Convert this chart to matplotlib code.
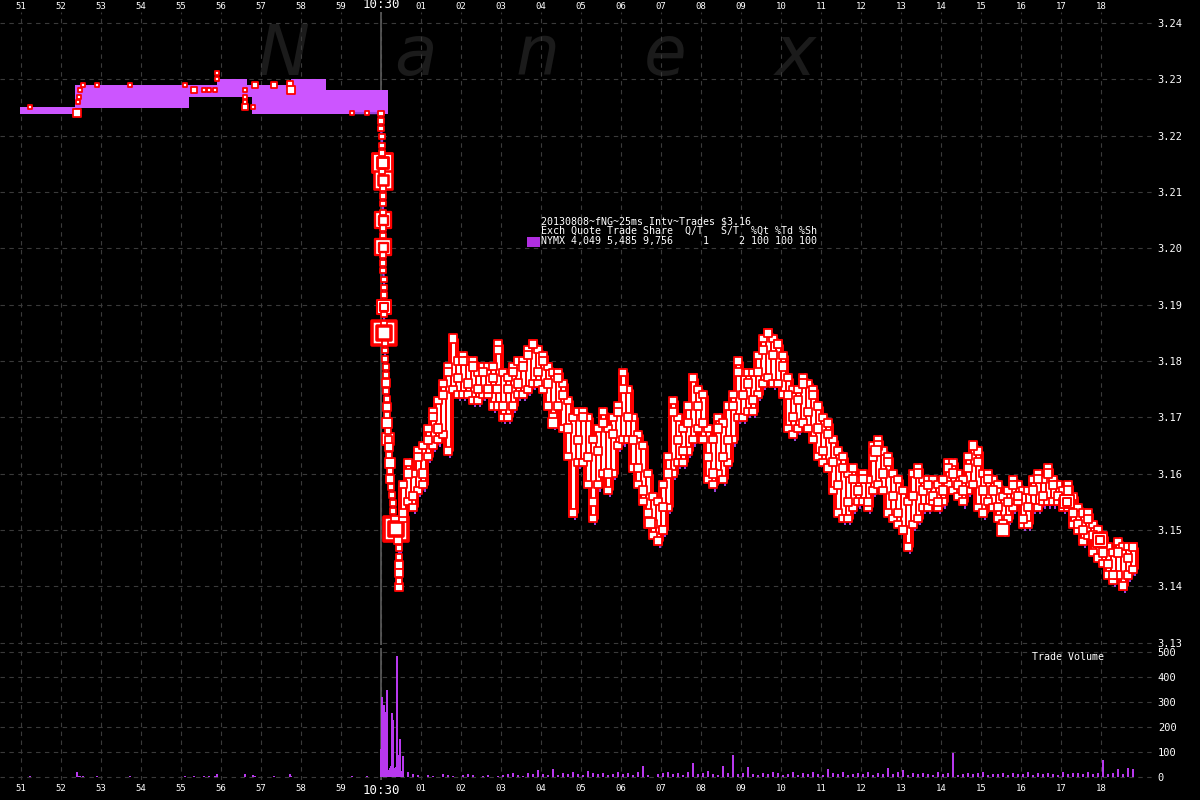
import matplotlib
matplotlib.use("Agg")
import matplotlib.pyplot as plt
from matplotlib.patches import Rectangle
import numpy as np

# ---------------- data ----------------
sec_ticks = list(range(-9, 19))
sec_labels = ["51", "52", "53", "54", "55", "56", "57", "58", "59", "10:30",
              "01", "02", "03", "04", "05", "06", "07", "08", "09", "10",
              "11", "12", "13", "14", "15", "16", "17", "18"]
price_ticks = [3.13, 3.14, 3.15, 3.16, 3.17, 3.18, 3.19, 3.20, 3.21, 3.22, 3.23, 3.24]
vol_ticks = [0, 100, 200, 300, 400, 500]

# NYMX quote band before 10:30 (step edges, seconds from 10:30:00)
band_t = [-9.025, -7.65, -4.8, -4.1, -3.35, -3.225, -2.25, -1.375, 0.175]
band_lo = [3.2238, 3.2249, 3.2269, 3.2269, 3.2269, 3.2238, 3.2238, 3.2238]
band_hi = [3.2251, 3.2290, 3.2290, 3.2301, 3.2290, 3.2290, 3.2301, 3.2281]
patch_t = [1.1, 1.4]
patch_lo = 3.1652
patch_hi = 3.1680

# trades before 10:30
pre_t = [-8.775, -7.6, -7.575, -7.55, -7.525, -7.45, -7.1, -6.275, -4.9, -4.675,
         -4.425, -4.3, -4.15, -4.1, -4.1, -3.4, -3.4, -3.4, -3.4, -3.2,
         -3.15, -2.675, -2.275, -2.25, -0.725, -0.35]
pre_px = [3.2251, 3.2240, 3.2260, 3.2269, 3.2281, 3.2290, 3.2290, 3.2290, 3.2290, 3.2281,
          3.2281, 3.2281, 3.2281, 3.2301, 3.2311, 3.2281, 3.2269, 3.2260, 3.2251, 3.2251,
          3.2290, 3.2290, 3.2291, 3.2281, 3.2240, 3.2240]
pre_sz = [6, 10, 6, 6, 6, 6, 6, 6, 6, 8,
          6, 6, 6, 6, 6, 6, 6, 6, 8, 6,
          8, 8, 8, 10, 6, 6]
pre_vol = [4, 19, 6, 4, 4, 4, 4, 4, 4, 6,
           4, 4, 6, 12, 8, 12, 4, 4, 6, 8,
           6, 4, 12, 6, 4, 4]

# the drop right after 10:30
drop_t = [0.000, 0.000, 0.000, 0.025, 0.025, 0.025, 0.025, 0.025, 0.050, 0.050,
          0.050, 0.050, 0.050, 0.050, 0.050, 0.050, 0.050, 0.050, 0.050, 0.050,
          0.075, 0.075, 0.075, 0.075, 0.075, 0.075, 0.075, 0.100, 0.100, 0.100,
          0.125, 0.125, 0.125, 0.125, 0.150, 0.150, 0.150, 0.150, 0.175, 0.175,
          0.200, 0.200, 0.225, 0.225, 0.225, 0.250, 0.275, 0.300, 0.300, 0.350,
          0.375, 0.425, 0.450, 0.450, 0.450, 0.450, 0.450, 0.450]
drop_px = [3.2240, 3.2226, 3.2212, 3.2198, 3.2183, 3.2169, 3.2153, 3.2137, 3.2121, 3.2107,
           3.2093, 3.2079, 3.2064, 3.2050, 3.2036, 3.2022, 3.2002, 3.1988, 3.1974, 3.1960,
           3.1945, 3.1931, 3.1917, 3.1896, 3.1882, 3.1867, 3.1850, 3.1832, 3.1818, 3.1803,
           3.1789, 3.1775, 3.1761, 3.1747, 3.1733, 3.1718, 3.1704, 3.1690, 3.1676, 3.1661,
           3.1647, 3.1633, 3.1619, 3.1605, 3.1590, 3.1576, 3.1562, 3.1548, 3.1534, 3.1518,
           3.1502, 3.1482, 3.1468, 3.1452, 3.1438, 3.1424, 3.1409, 3.1399]
drop_sz = [7, 7, 7, 7, 7, 7, 22, 7, 20, 7,
           7, 7, 7, 18, 7, 7, 18, 7, 7, 7,
           7, 7, 7, 16, 7, 7, 27, 7, 7, 8,
           8, 8, 10, 8, 8, 10, 8, 12, 8, 14,
           10, 8, 12, 8, 10, 8, 8, 8, 8, 10,
           28, 10, 8, 8, 10, 10, 8, 10]

# 25ms interval volume during the drop
spike_t = [0.000, 0.025, 0.050, 0.075, 0.100, 0.125, 0.150, 0.175, 0.200, 0.225, 0.250,
           0.275, 0.300, 0.325, 0.350, 0.375, 0.400, 0.425, 0.450, 0.475, 0.500, 0.525]
spike_vol = [111, 321, 60, 288, 261, 35, 348, 30, 20, 35, 45,
             257, 228, 35, 35, 40, 484, 88, 30, 151, 25, 12]

# trades after the drop, one column every 0.125 s starting at 10:30:00.55
post_start = 0.55
post_step = 0.125
post_px = [3.153, 3.160, 3.156, 3.163, 3.160, 3.166, 3.170, 3.168, 3.174, 3.178,
           3.184, 3.177, 3.180, 3.176, 3.179, 3.175, 3.178, 3.175, 3.177, 3.182,
           3.172, 3.175, 3.178, 3.176, 3.179, 3.181, 3.183, 3.178, 3.180, 3.176,
           3.170, 3.177, 3.174, 3.168, 3.153, 3.166, 3.170, 3.163, 3.155, 3.164,
           3.169, 3.160, 3.167, 3.171, 3.175, 3.170, 3.166, 3.161, 3.157, 3.153,
           3.151, 3.148, 3.154, 3.160, 3.171, 3.166, 3.164, 3.169, 3.177, 3.172,
           3.169, 3.163, 3.160, 3.168, 3.163, 3.166, 3.172, 3.178, 3.174, 3.176,
           3.173, 3.178, 3.182, 3.185, 3.181, 3.183, 3.179, 3.174, 3.170, 3.173,
           3.176, 3.171, 3.174, 3.168, 3.164, 3.167, 3.162, 3.158, 3.161, 3.155,
           3.159, 3.157, 3.159, 3.155, 3.163, 3.165, 3.160, 3.162, 3.156, 3.153,
           3.150, 3.147, 3.156, 3.160, 3.157, 3.158, 3.156, 3.155, 3.157, 3.161,
           3.160, 3.158, 3.157, 3.161, 3.165, 3.162, 3.157, 3.159, 3.157, 3.154,
           3.151, 3.155, 3.158, 3.156, 3.152, 3.154, 3.157, 3.159, 3.156, 3.160,
           3.158, 3.156, 3.155, 3.157, 3.153, 3.151, 3.150, 3.152, 3.149, 3.148,
           3.146, 3.144, 3.142, 3.146, 3.140, 3.145, 3.147]
post_lo = [3.152, 3.155, 3.154, 3.157, 3.158, 3.163, 3.165, 3.166, 3.167, 3.164,
           3.175, 3.174, 3.174, 3.174, 3.173, 3.173, 3.174, 3.174, 3.172, 3.172,
           3.170, 3.170, 3.172, 3.174, 3.174, 3.175, 3.176, 3.176, 3.175, 3.172,
           3.169, 3.172, 3.168, 3.163, 3.153, 3.162, 3.162, 3.158, 3.152, 3.158,
           3.160, 3.157, 3.160, 3.165, 3.166, 3.166, 3.161, 3.158, 3.155, 3.151,
           3.149, 3.148, 3.150, 3.154, 3.160, 3.162, 3.162, 3.164, 3.166, 3.168,
           3.166, 3.159, 3.158, 3.160, 3.159, 3.162, 3.166, 3.170, 3.170, 3.171,
           3.171, 3.174, 3.176, 3.177, 3.176, 3.176, 3.174, 3.168, 3.167, 3.168,
           3.169, 3.168, 3.166, 3.163, 3.162, 3.161, 3.157, 3.153, 3.152, 3.152,
           3.154, 3.155, 3.155, 3.154, 3.157, 3.158, 3.157, 3.153, 3.152, 3.151,
           3.150, 3.147, 3.151, 3.152, 3.154, 3.154, 3.155, 3.154, 3.155, 3.158,
           3.157, 3.156, 3.155, 3.157, 3.158, 3.154, 3.153, 3.155, 3.154, 3.152,
           3.150, 3.152, 3.154, 3.155, 3.151, 3.151, 3.154, 3.154, 3.155, 3.155,
           3.155, 3.155, 3.154, 3.154, 3.151, 3.150, 3.148, 3.149, 3.146, 3.145,
           3.144, 3.142, 3.141, 3.142, 3.140, 3.142, 3.143]
post_hi = [3.158, 3.162, 3.160, 3.164, 3.165, 3.168, 3.171, 3.173, 3.176, 3.179,
           3.184, 3.180, 3.181, 3.180, 3.180, 3.178, 3.179, 3.179, 3.179, 3.183,
           3.178, 3.177, 3.179, 3.180, 3.180, 3.182, 3.183, 3.182, 3.181, 3.179,
           3.178, 3.178, 3.176, 3.173, 3.170, 3.171, 3.171, 3.170, 3.166, 3.168,
           3.171, 3.168, 3.170, 3.172, 3.178, 3.175, 3.170, 3.167, 3.165, 3.160,
           3.156, 3.155, 3.158, 3.163, 3.173, 3.170, 3.168, 3.172, 3.177, 3.175,
           3.174, 3.168, 3.166, 3.170, 3.169, 3.172, 3.174, 3.180, 3.178, 3.178,
           3.178, 3.181, 3.184, 3.185, 3.184, 3.183, 3.181, 3.177, 3.175, 3.175,
           3.177, 3.176, 3.175, 3.172, 3.170, 3.169, 3.166, 3.164, 3.163, 3.160,
           3.161, 3.159, 3.160, 3.159, 3.165, 3.166, 3.164, 3.163, 3.160, 3.159,
           3.157, 3.155, 3.160, 3.161, 3.159, 3.159, 3.159, 3.158, 3.159, 3.162,
           3.162, 3.160, 3.159, 3.163, 3.165, 3.164, 3.160, 3.160, 3.159, 3.158,
           3.156, 3.157, 3.159, 3.158, 3.157, 3.157, 3.159, 3.160, 3.159, 3.161,
           3.159, 3.158, 3.157, 3.158, 3.156, 3.154, 3.153, 3.153, 3.151, 3.150,
           3.149, 3.147, 3.146, 3.148, 3.147, 3.147, 3.147]
post_vol = [84, 20, 12, 8, 0, 10, 6, 0, 14, 8,
            6, 0, 10, 12, 8, 0, 4, 10, 0, 6,
            8, 12, 16, 10, 6, 18, 12, 28, 14, 10,
            31, 8, 16, 12, 20, 14, 10, 24, 16, 12,
            18, 8, 14, 22, 12, 16, 10, 20, 44, 8,
            0, 14, 18, 22, 12, 16, 10, 20, 55, 12,
            16, 24, 14, 10, 44, 18, 88, 12, 16, 41,
            14, 10, 18, 12, 20, 16, 8, 14, 22, 10,
            16, 12, 20, 14, 10, 34, 16, 12, 20, 8,
            14, 18, 12, 22, 10, 16, 14, 38, 12, 20,
            30, 10, 16, 12, 18, 14, 8, 20, 12, 16,
            97, 10, 14, 18, 12, 16, 20, 8, 14, 12,
            18, 10, 16, 12, 14, 20, 10, 18, 12, 16,
            14, 10, 22, 12, 16, 18, 12, 20, 14, 16,
            68, 12, 18, 31, 14, 38, 34]

# larger trades after the drop
big_t = [17.975, 17.15, 15.55, 4.3, 2.9, 12.375, 6.725, 7.05]
big_px = [3.1482, 3.1550, 3.1500, 3.1690, 3.1750, 3.1640, 3.1513, 3.1500]
big_sz = [16, 15, 13, 12, 10, 11, 12, 10]

legend_lines = ["20130808~fNG~25ms Intv~Trades $3.16",
                "Exch Quote Trade Share  Q/T   S/T  %Qt %Td %Sh",
                "NYMX 4,049 5,485 9,756     1     2 100 100 100"]

# ---------------- style ----------------
W, H = 1200, 800
BAND = "#cc55ff"
VOLC = "#b838ee"
GRID = "#3a3a3a"
RED = "#ff0000"
MONO = "DejaVu Sans Mono"
PT = 0.72  # points per pixel at 100 dpi

post_t = post_start + post_step * np.arange(len(post_px))

fig = plt.figure(figsize=(12, 8), dpi=100, facecolor="black")
ax = fig.add_axes([0, 155 / H, 1155 / W, 633 / H], facecolor="black")
axv = fig.add_axes([0, 20 / H, 1155 / W, 132 / H], facecolor="black")

for a in (ax, axv):
    a.set_xlim(-9.525, 19.35)
    for s in a.spines.values():
        s.set_visible(False)
    a.grid(True, color=GRID, linestyle=(0, (4, 4)), linewidth=0.8)
    a.set_axisbelow(True)
    a.axvline(0, color="#5c5c5c", linewidth=1.2, zorder=1)
    a.set_xticks(sec_ticks)
    a.tick_params(length=0, colors="white")

ax.set_ylim(3.12957, 3.24195)
axv.set_ylim(-12, 516)

# watermark
for ch, xp in zip("Nanex", [283, 415, 538, 665, 795]):
    ax.text(xp / W, 1 - 75 / H, ch, transform=fig.transFigure, fontsize=50,
            style="italic", color="#1b1b1b", ha="center", va="baseline", zorder=0)

# quote band
ax.fill_between(band_t, band_lo + [band_lo[-1]], band_hi + [band_hi[-1]],
                step="post", color=BAND, linewidth=0, zorder=2)
ax.fill_between(patch_t, patch_lo, patch_hi, color=BAND, linewidth=0, zorder=2)

# quote line linking the trades
all_t = list(pre_t[-2:]) + drop_t + list(post_t)
all_px = list(pre_px[-2:]) + drop_px + post_px
ax.plot(all_t, all_px, color="#a040e0", linewidth=1.6, zorder=3)
ax.vlines(post_t + 0.04, np.array(post_lo) - 0.0012, np.array(post_hi) + 0.0008,
          color="#a040e0", linewidth=1.4, zorder=3)


def squares(t, p, size_px, z):
    size_px = np.asarray(size_px, dtype=float)
    edge = np.maximum(1.8, size_px * 0.13)
    inner = (size_px - edge) * PT
    ax.scatter(t, p, s=inner ** 2, marker="s", facecolor="white",
               edgecolor=RED, linewidths=edge * PT, zorder=z)
    # nested outline for the big prints
    big = size_px >= 14
    if big.any():
        ax.scatter(np.asarray(t)[big], np.asarray(p)[big],
                   s=(size_px[big] * 0.5 * PT) ** 2, marker="s",
                   facecolor="white", edgecolor=RED,
                   linewidths=edge[big] * PT, zorder=z + 0.1)


# stacked trade columns after the drop
ax.vlines(post_t, post_lo, post_hi, color=RED, linewidth=11 * PT, zorder=4)
ax.vlines(post_t, post_lo, post_hi, color="white", linewidth=3 * PT, zorder=4.2)

squares(pre_t, pre_px, pre_sz, 5)
order = np.argsort(drop_sz)[::-1]
squares(np.asarray(drop_t)[order], np.asarray(drop_px)[order],
        np.asarray(drop_sz)[order], 5)
squares(post_t, post_lo, [9] * len(post_lo), 5.5)
squares(post_t, post_hi, [9] * len(post_hi), 5.5)
squares(post_t, post_px, [10] * len(post_px), 5.6)
squares(big_t, big_px, big_sz, 5.8)

# ticks
ax.xaxis.tick_top()
ax.set_xticklabels(sec_labels, fontsize=6.5, family=MONO)
ax.tick_params(axis="x", pad=1)
ax.yaxis.tick_right()
ax.set_yticks(price_ticks)
ax.set_yticklabels([f"{v:.2f}" for v in price_ticks], fontsize=7.5, family=MONO)
ax.tick_params(axis="y", pad=2)

axv.set_xticklabels(sec_labels, fontsize=6.5, family=MONO)
axv.tick_params(axis="x", pad=3)
axv.yaxis.tick_right()
axv.set_yticks(vol_ticks)
axv.set_yticklabels([str(v) for v in vol_ticks], fontsize=7.5, family=MONO)
axv.tick_params(axis="y", pad=2)

for a in (ax, axv):
    for lab in a.get_xticklabels():
        if lab.get_text() == "10:30":
            lab.set_fontsize(9)

# volume bars
axv.bar(pre_t, pre_vol, width=0.04, color=VOLC, linewidth=0, zorder=3)
axv.bar(spike_t, spike_vol, width=0.027, color=VOLC, linewidth=0, zorder=3)
axv.bar(post_t, post_vol, width=0.05, color=VOLC, linewidth=0, zorder=3)

# legend block
ax.add_patch(Rectangle((527 / W, 1 - 247 / H), 13 / W, 10 / H, transform=fig.transFigure,
                       facecolor="#b02ee0", edgecolor="none", zorder=8))
for i, line in enumerate(legend_lines):
    fig.text(541 / W, 1 - (221 + 10 * i) / H, line, color="white", fontsize=7.2,
             family=MONO, va="center", ha="left", zorder=9)

fig.text(1032 / W, 1 - 657 / H, "Trade Volume", color="white", fontsize=7.2,
         family=MONO, va="center", ha="left")

fig.savefig("out.png", dpi=100, facecolor="black")
